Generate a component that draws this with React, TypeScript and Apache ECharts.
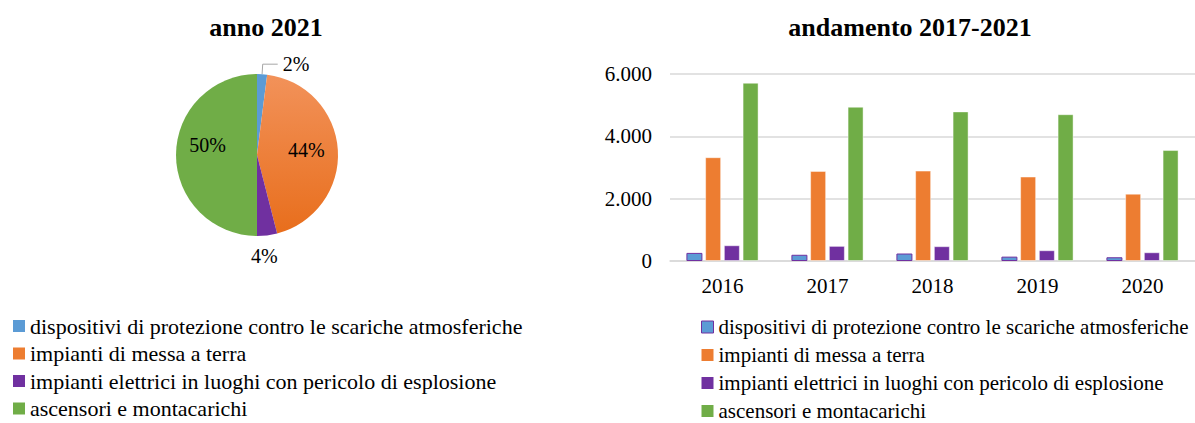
import React, { useEffect, useRef } from "react";
import * as echarts from "echarts";

const seriesNames = [
  "dispositivi di protezione contro le scariche atmosferiche",
  "impianti di messa a terra",
  "impianti elettrici in luoghi con pericolo di esplosione",
  "ascensori e montacarichi",
];
const colors = ["#5B9BD5", "#ED7D31", "#7030A0", "#70AD47"];
const years = ["2016", "2017", "2018", "2019", "2020"];
const dispositivi = [260, 200, 240, 140, 120];
const messaTerra = [3330, 2890, 2900, 2710, 2160];
const esplosione = [505, 485, 475, 345, 280];
const ascensori = [5720, 4950, 4800, 4710, 3560];
const barValues = [dispositivi, messaTerra, esplosione, ascensori];
const pie2021 = [2, 44, 4, 50];
const titles = ["anno 2021", "andamento 2017-2021"];

const FONT = "'Liberation Serif', 'Times New Roman', serif";

function fmtThousands(v: number) {
  return String(v).replace(/\B(?=(\d{3})+(?!\d))/g, ".");
}

export default function App() {
  const ref = useRef<HTMLDivElement>(null);
  useEffect(() => {
    if (!ref.current) return;
    const chart = echarts.init(ref.current, undefined, { renderer: "svg" });

    const pieLabelShift: Record<number, [number, number]> = {
      1: [6, -2],
      2: [2, 58],
      3: [-6, -10],
    };

    const pieData = pie2021.map((v, i) => {
      const item: any = {
        value: v,
        name: seriesNames[i],
        itemStyle:
          i === 1
            ? {
                color: new echarts.graphic.LinearGradient(0, 0, 0, 1, [
                  { offset: 0, color: "#F2925A" },
                  { offset: 1, color: "#E86E1C" },
                ]),
              }
            : { color: colors[i] },
      };
      if (i === 0) {
        item.label = { position: "outside" };
        item.labelLine = {
          show: true,
          length: 10,
          length2: 15,
          lineStyle: { color: "#A6A6A6", width: 1 },
        };
      } else {
        item.label = { position: "inside" };
      }
      return item;
    });

    const legendItems = (hideBorder: boolean) =>
      seriesNames.map((n, i) => ({
        name: n,
        itemStyle: hideBorder
          ? { color: colors[i], borderWidth: 0 }
          : i === 0
          ? { color: colors[i], borderColor: "#7030A0", borderWidth: 1 }
          : { color: colors[i], borderWidth: 0 },
      }));

    chart.setOption({
      animation: false,
      textStyle: { fontFamily: FONT, color: "#000" },
      title: [
        {
          text: titles[0],
          left: 261,
          top: 9,
          textAlign: "center",
          textStyle: { fontFamily: FONT, fontSize: 26, fontWeight: "bold", color: "#000" },
        },
        {
          text: titles[1],
          left: 905,
          top: 9,
          textAlign: "center",
          textStyle: { fontFamily: FONT, fontSize: 26, fontWeight: "bold", color: "#000" },
        },
      ],
      legend: [
        {
          orient: "vertical",
          left: 13,
          top: 315,
          height: 110,
          padding: 0,
          icon: "rect",
          itemWidth: 12,
          itemHeight: 12,
          itemGap: 5.5,
          selectedMode: false,
          textStyle: { fontFamily: FONT, fontSize: 22, lineHeight: 22, color: "#000" },
          data: legendItems(true),
        },
        {
          orient: "vertical",
          left: 701,
          top: 316,
          height: 110,
          padding: 0,
          icon: "rect",
          itemWidth: 12,
          itemHeight: 12,
          itemGap: 6,
          selectedMode: false,
          textStyle: { fontFamily: FONT, fontSize: 21, lineHeight: 22, color: "#000" },
          data: legendItems(false),
        },
      ],
      grid: { left: 670, top: 74, width: 530, bottom: 162, containLabel: false },
      xAxis: {
        type: "category",
        data: years,
        axisLine: { show: true, lineStyle: { color: "#D9D9D9", width: 1.5 } },
        axisTick: { show: false },
        axisLabel: { fontFamily: FONT, fontSize: 21, color: "#000", margin: 14 },
      },
      yAxis: {
        type: "value",
        min: 0,
        max: 6000,
        interval: 2000,
        axisLine: { show: false },
        axisTick: { show: false },
        splitLine: { lineStyle: { color: "#D9D9D9", width: 1.5 } },
        axisLabel: {
          fontFamily: FONT,
          fontSize: 21,
          color: "#000",
          margin: 18,
          formatter: (v: number) => fmtThousands(v),
        },
      },
      series: [
        {
          type: "pie",
          center: [257, 155],
          radius: 81,
          startAngle: 90,
          clockwise: true,
          avoidLabelOverlap: false,
          data: pieData,
          label: {
            show: true,
            formatter: "{d}%",
            fontFamily: FONT,
            fontSize: 20,
            color: "#000",
          },
          labelLayout: (params: any) => {
            const s = pieLabelShift[params.dataIndex];
            return s ? { dx: s[0], dy: s[1] } : {};
          },
          emphasis: { disabled: true },
        },
        ...barValues.map((vals, i) => ({
          type: "bar",
          name: seriesNames[i],
          data: vals,
          barWidth: 16,
          barGap: "17%",
          itemStyle:
            i === 0
              ? { color: colors[i], borderColor: "#7030A0", borderWidth: 1 }
              : { color: colors[i], borderColor: "rgba(255,255,255,0.45)", borderWidth: 1 },
          emphasis: { disabled: true },
        })),
      ],
    });

    return () => chart.dispose();
  }, []);

  return (
    <div
      ref={ref}
      style={{ position: "fixed", left: 0, top: 0, width: 1195, height: 423, background: "#fff" }}
    />
  );
}
